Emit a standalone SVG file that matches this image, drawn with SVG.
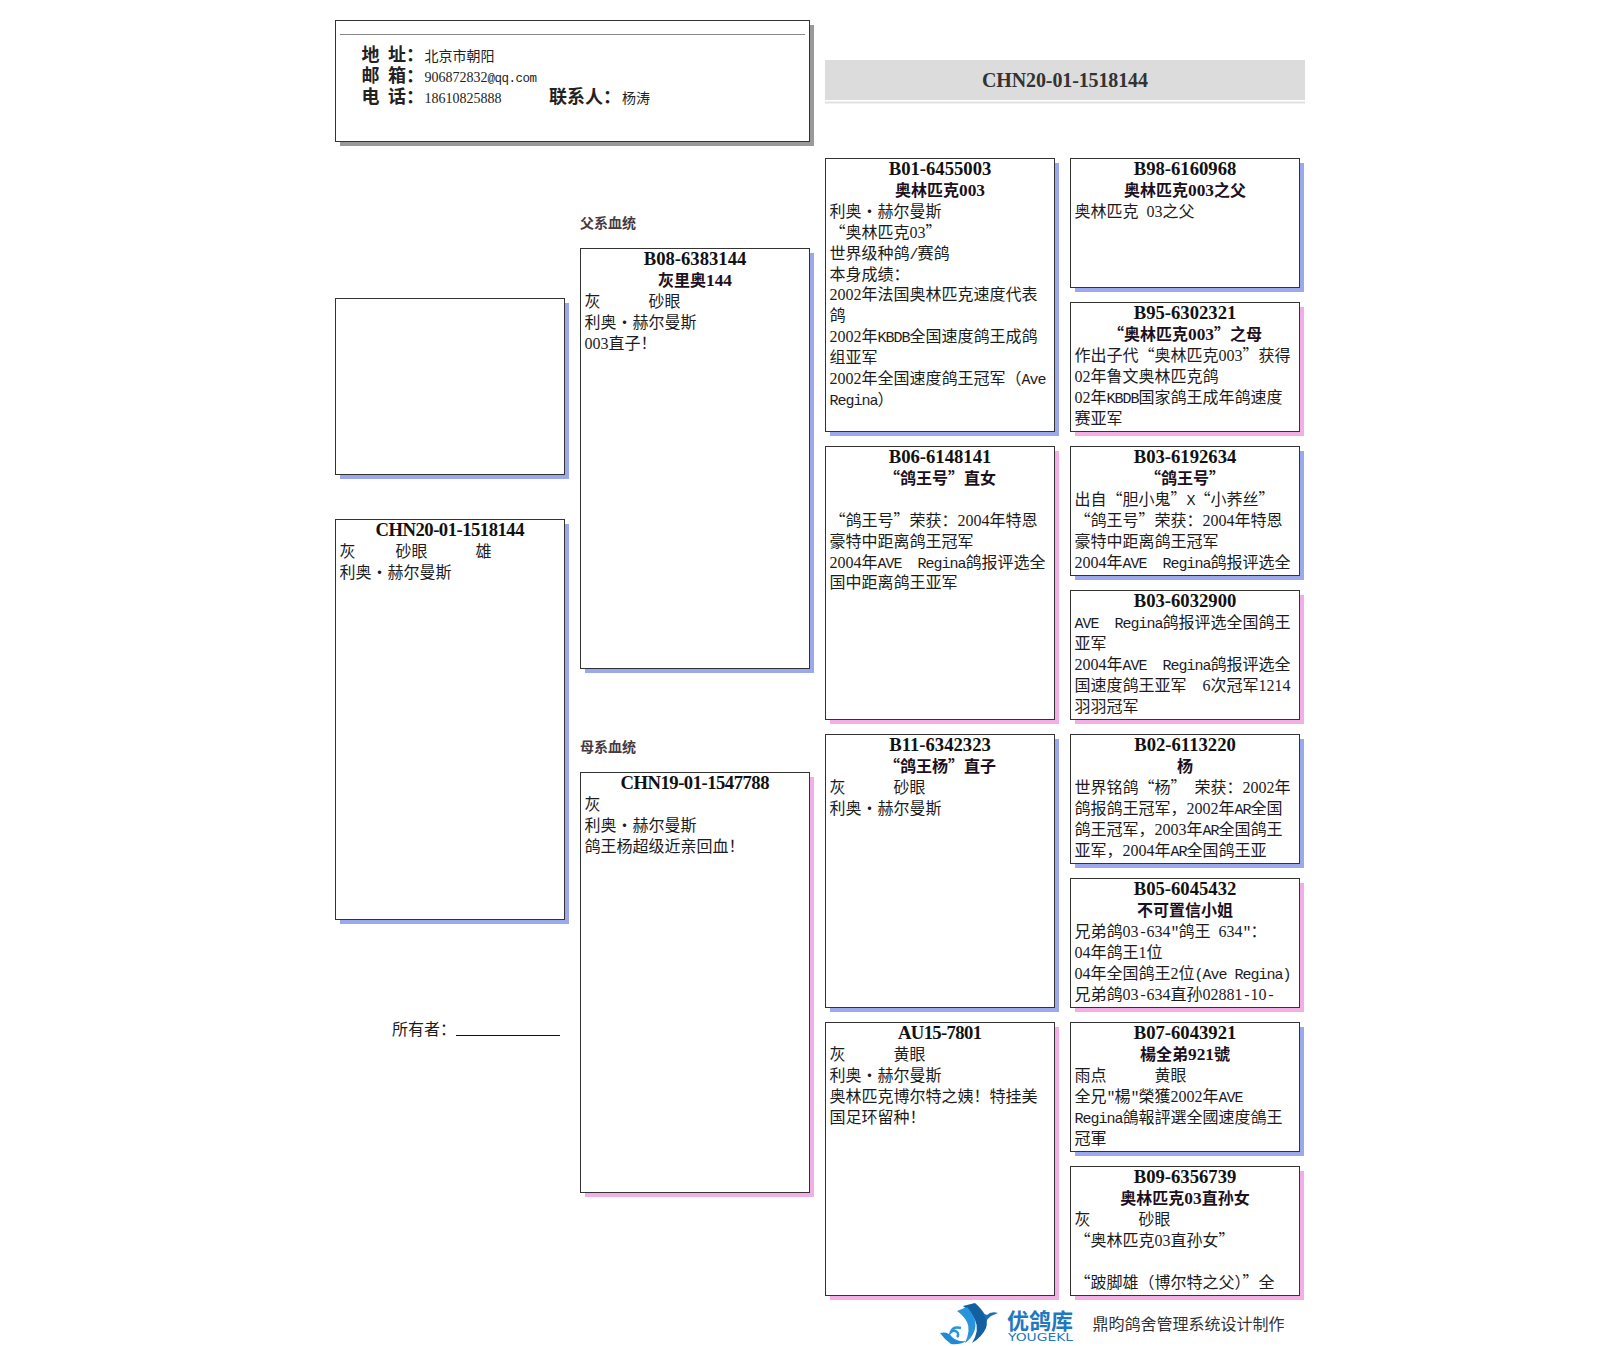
<svg xmlns="http://www.w3.org/2000/svg" width="1622" height="1346" viewBox="0 0 1622 1346">
<style>
text{font-family:"Noto Sans CJK SC",sans-serif;font-size:16px;fill:#1c1c1c;white-space:pre}
.l{font-family:"Liberation Mono",monospace;font-size:15px;letter-spacing:-1px}
.d{font-family:"Liberation Serif",serif;font-size:16px}
.h{font-family:"Liberation Serif",serif;font-size:18.67px;font-weight:bold;text-anchor:middle;fill:#111}
.n{font-weight:bold;text-anchor:middle;fill:#1c1020}
.nl{font-family:"Liberation Serif",serif;font-size:17.33px;font-weight:bold}
.b{fill:#fff;stroke:#333;stroke-width:1}
.sb{fill:#9ba9ec}
.sp{fill:#f4aee6}
.sg{fill:#999}
.lab{font-weight:bold;font-size:18px;fill:#222}
.v{font-size:14px;fill:#222}
.vd{font-family:"Liberation Serif",serif;font-size:14px;fill:#222}
.vl{font-family:"Liberation Mono",monospace;font-size:12.500px;letter-spacing:-.5px;fill:#222}
.sec{font-weight:bold;font-size:14px;fill:#443a44}
.logo{fill:#1f78c0}
</style>
<rect width="1622" height="1346" fill="#fff"/>

<g id="header">
<rect class="sg" x="340" y="25" width="474" height="121"/>
<rect class="b" x="335.500" y="20.500" width="474" height="121"/>
<line x1="340" y1="34.500" x2="805" y2="34.500" stroke="#888"/>
<text class="lab" x="361.500" y="61">地</text><text class="lab" x="388" y="61">址：</text><text class="v" x="424.500" y="61">北京市朝阳</text>
<text class="lab" x="361.500" y="82">邮</text><text class="lab" x="388" y="82">箱：</text><text class="vd" x="424.500" y="82">906872832<tspan class="vl">@qq.com</tspan></text>
<text class="lab" x="361.500" y="103">电</text><text class="lab" x="388" y="103">话：</text><text class="vd" x="424.500" y="103">18610825888</text>
<text class="lab" x="549" y="103">联系人：</text><text class="v" x="622" y="103">杨涛</text>
</g>

<g id="title-band">
<rect x="825" y="60" width="480" height="40" fill="#dcdcdc"/>
<rect x="825" y="101.500" width="480" height="2" fill="#e2e2e2"/>
<text x="1065" y="86.500" text-anchor="middle" textLength="166" style="font-family:'Liberation Serif',serif;font-size:20px;font-weight:bold;fill:#333">CHN20-01-1518144</text>
</g>

<g id="photo-box">
<rect class="sb" x="340" y="303" width="229" height="176"/>
<rect class="b" x="335.500" y="298.500" width="229" height="176"/>
</g>

<g id="bird">
<rect class="sb" x="340" y="524" width="229" height="400"/>
<rect class="b" x="335.500" y="519.500" width="229" height="400"/>
<text class="h" x="450" y="536" textLength="149">CHN20-01-1518144</text>
<text x="339.500" y="556.900">灰</text><text x="395.500" y="556.900">砂眼</text><text x="475.500" y="556.900">雄</text>
<text x="339.500" y="577.800">利奥·赫尔曼斯</text>
</g>

<g id="owner">
<text x="392" y="1035">所有者：</text>
<line x1="456" y1="1035.500" x2="560" y2="1035.500" stroke="#111"/>
</g>

<text class="sec" x="580" y="228">父系血统</text>
<text class="sec" x="580" y="752">母系血统</text>

<g id="sire">
<rect class="sb" x="585" y="253" width="229" height="420"/>
<rect class="b" x="580.500" y="248.500" width="229" height="420"/>
<text class="h" x="695" y="265">B08-6383144</text>
<text class="n" x="695" y="285.900">灰里奥<tspan class="nl">144</tspan></text>
<text x="584.500" y="306.800">灰</text><text x="648.500" y="306.800">砂眼</text>
<text x="584.500" y="327.700">利奥·赫尔曼斯</text>
<text x="584.500" y="348.600"><tspan class="d">003</tspan>直子！</text>
</g>

<g id="dam">
<rect class="sp" x="585" y="777" width="229" height="420"/>
<rect class="b" x="580.500" y="772.500" width="229" height="420"/>
<text class="h" x="695" y="789" textLength="149">CHN19-01-1547788</text>
<text x="584.500" y="809.900">灰</text>
<text x="584.500" y="830.800">利奥·赫尔曼斯</text>
<text x="584.500" y="851.700">鸽王杨超级近亲回血！</text>
</g>

<g id="b01">
<rect class="sb" x="830" y="163" width="229" height="273"/>
<rect class="b" x="825.500" y="158.500" width="229" height="273"/>
<text class="h" x="940" y="175">B01-6455003</text>
<text class="n" x="940" y="195.900">奥林匹克<tspan class="nl">003</tspan></text>
<text x="829.500" y="216.800">利奥·赫尔曼斯</text>
<text x="829.500" y="237.700">“奥林匹克<tspan class="d">03</tspan>”</text>
<text x="829.500" y="258.600">世界级种鸽<tspan class="l">/</tspan>赛鸽</text>
<text x="829.500" y="279.500">本身成绩：</text>
<text x="829.500" y="300.400"><tspan class="d">2002</tspan>年法国奥林匹克速度代表</text>
<text x="829.500" y="321.300">鸽</text>
<text x="829.500" y="342.200"><tspan class="d">2002</tspan>年<tspan class="l">KBDB</tspan>全国速度鸽王成鸽</text>
<text x="829.500" y="363.100">组亚军</text>
<text x="829.500" y="384"><tspan class="d">2002</tspan>年全国速度鸽王冠军（<tspan class="l">Ave</tspan></text>
<text x="829.500" y="404.900"><tspan class="l">Regina</tspan>）</text>
</g>

<g id="b06">
<rect class="sp" x="830" y="451" width="229" height="273"/>
<rect class="b" x="825.500" y="446.500" width="229" height="273"/>
<text class="h" x="940" y="463">B06-6148141</text>
<text class="n" x="940" y="483.900">“鸽王号”直女</text>
<text x="829.500" y="525.700">“鸽王号”荣获：<tspan class="d">2004</tspan>年特恩</text>
<text x="829.500" y="546.600">豪特中距离鸽王冠军</text>
<text x="829.500" y="567.500"><tspan class="d">2004</tspan>年<tspan class="l">AVE  Regina</tspan>鸽报评选全</text>
<text x="829.500" y="588.400">国中距离鸽王亚军</text>
</g>

<g id="b11">
<rect class="sb" x="830" y="739" width="229" height="273"/>
<rect class="b" x="825.500" y="734.500" width="229" height="273"/>
<text class="h" x="940" y="751">B11-6342323</text>
<text class="n" x="940" y="771.900">“鸽王杨”直子</text>
<text x="829.500" y="792.800">灰</text><text x="893.500" y="792.800">砂眼</text>
<text x="829.500" y="813.700">利奥·赫尔曼斯</text>
</g>

<g id="au15">
<rect class="sp" x="830" y="1027" width="229" height="273"/>
<rect class="b" x="825.500" y="1022.500" width="229" height="273"/>
<text class="h" x="940" y="1039" textLength="84">AU15-7801</text>
<text x="829.500" y="1059.900">灰</text><text x="893.500" y="1059.900">黄眼</text>
<text x="829.500" y="1080.800">利奥·赫尔曼斯</text>
<text x="829.500" y="1101.700">奥林匹克博尔特之姨！特挂美</text>
<text x="829.500" y="1122.600">国足环留种！</text>
</g>

<g id="b98">
<rect class="sb" x="1075" y="163" width="229" height="129"/>
<rect class="b" x="1070.500" y="158.500" width="229" height="129"/>
<text class="h" x="1185" y="175">B98-6160968</text>
<text class="n" x="1185" y="195.900">奥林匹克<tspan class="nl">003</tspan>之父</text>
<text x="1074.500" y="216.800">奥林匹克<tspan class="l"> </tspan><tspan class="d">03</tspan>之父</text>
</g>

<g id="b95">
<rect class="sp" x="1075" y="307" width="229" height="129"/>
<rect class="b" x="1070.500" y="302.500" width="229" height="129"/>
<text class="h" x="1185" y="319">B95-6302321</text>
<text class="n" x="1185" y="339.900">“奥林匹克<tspan class="nl">003</tspan>”之母</text>
<text x="1074.500" y="360.800">作出子代“奥林匹克<tspan class="d">003</tspan>”获得</text>
<text x="1074.500" y="381.700"><tspan class="d">02</tspan>年鲁文奥林匹克鸽</text>
<text x="1074.500" y="402.600"><tspan class="d">02</tspan>年<tspan class="l">KBDB</tspan>国家鸽王成年鸽速度</text>
<text x="1074.500" y="423.500">赛亚军</text>
</g>

<g id="b03a">
<rect class="sb" x="1075" y="451" width="229" height="129"/>
<rect class="b" x="1070.500" y="446.500" width="229" height="129"/>
<text class="h" x="1185" y="463">B03-6192634</text>
<text class="n" x="1185" y="483.900">“鸽王号”</text>
<text x="1074.500" y="504.800">出自“胆小鬼”<tspan class="l">X</tspan>“小荞丝”</text>
<text x="1074.500" y="525.700">“鸽王号”荣获：<tspan class="d">2004</tspan>年特恩</text>
<text x="1074.500" y="546.600">豪特中距离鸽王冠军</text>
<text x="1074.500" y="567.500"><tspan class="d">2004</tspan>年<tspan class="l">AVE  Regina</tspan>鸽报评选全</text>
</g>

<g id="b03b">
<rect class="sp" x="1075" y="595" width="229" height="129"/>
<rect class="b" x="1070.500" y="590.500" width="229" height="129"/>
<text class="h" x="1185" y="607">B03-6032900</text>
<text x="1074.500" y="627.900"><tspan class="l">AVE  Regina</tspan>鸽报评选全国鸽王</text>
<text x="1074.500" y="648.800">亚军</text>
<text x="1074.500" y="669.700"><tspan class="d">2004</tspan>年<tspan class="l">AVE  Regina</tspan>鸽报评选全</text>
<text x="1074.500" y="690.600">国速度鸽王亚军<tspan class="l">  </tspan><tspan class="d">6</tspan>次冠军<tspan class="d">1214</tspan></text>
<text x="1074.500" y="711.500">羽羽冠军</text>
</g>

<g id="b02">
<rect class="sb" x="1075" y="739" width="229" height="129"/>
<rect class="b" x="1070.500" y="734.500" width="229" height="129"/>
<text class="h" x="1185" y="751">B02-6113220</text>
<text class="n" x="1185" y="771.900">杨</text>
<text x="1074.500" y="792.800">世界铭鸽“杨”<tspan class="l"> </tspan>荣获：<tspan class="d">2002</tspan>年</text>
<text x="1074.500" y="813.700">鸽报鸽王冠军，<tspan class="d">2002</tspan>年<tspan class="l">AR</tspan>全国</text>
<text x="1074.500" y="834.600">鸽王冠军，<tspan class="d">2003</tspan>年<tspan class="l">AR</tspan>全国鸽王</text>
<text x="1074.500" y="855.500">亚军，<tspan class="d">2004</tspan>年<tspan class="l">AR</tspan>全国鸽王亚</text>
</g>

<g id="b05">
<rect class="sp" x="1075" y="883" width="229" height="129"/>
<rect class="b" x="1070.500" y="878.500" width="229" height="129"/>
<text class="h" x="1185" y="895">B05-6045432</text>
<text class="n" x="1185" y="915.900">不可置信小姐</text>
<text x="1074.500" y="936.800">兄弟鸽<tspan class="d">03</tspan><tspan class="l">-</tspan><tspan class="d">634</tspan><tspan class="l">"</tspan>鸽王<tspan class="l"> </tspan><tspan class="d">634</tspan><tspan class="l">"</tspan>：</text>
<text x="1074.500" y="957.700"><tspan class="d">04</tspan>年鸽王<tspan class="d">1</tspan>位</text>
<text x="1074.500" y="978.600"><tspan class="d">04</tspan>年全国鸽王<tspan class="d">2</tspan>位<tspan class="l">(Ave Regina)</tspan></text>
<text x="1074.500" y="999.500">兄弟鸽<tspan class="d">03</tspan><tspan class="l">-</tspan><tspan class="d">634</tspan>直孙<tspan class="d">02881</tspan><tspan class="l">-</tspan><tspan class="d">10</tspan><tspan class="l">-</tspan></text>
</g>

<g id="b07">
<rect class="sb" x="1075" y="1027" width="229" height="129"/>
<rect class="b" x="1070.500" y="1022.500" width="229" height="129"/>
<text class="h" x="1185" y="1039">B07-6043921</text>
<text class="n" x="1185" y="1059.900">楊全弟<tspan class="nl">921</tspan>號</text>
<text x="1074.500" y="1080.800">雨点</text><text x="1154.500" y="1080.800">黄眼</text>
<text x="1074.500" y="1101.700">全兄<tspan class="l">"</tspan>楊<tspan class="l">"</tspan>榮獲<tspan class="d">2002</tspan>年<tspan class="l">AVE</tspan></text>
<text x="1074.500" y="1122.600"><tspan class="l">Regina</tspan>鴿報評選全國速度鴿王</text>
<text x="1074.500" y="1143.500">冠軍</text>
</g>

<g id="b09">
<rect class="sp" x="1075" y="1171" width="229" height="129"/>
<rect class="b" x="1070.500" y="1166.500" width="229" height="129"/>
<text class="h" x="1185" y="1183">B09-6356739</text>
<text class="n" x="1185" y="1203.900">奥林匹克<tspan class="nl">03</tspan>直孙女</text>
<text x="1074.500" y="1224.800">灰</text><text x="1138.500" y="1224.800">砂眼</text>
<text x="1074.500" y="1245.700">“奥林匹克<tspan class="d">03</tspan>直孙女”</text>
<text x="1074.500" y="1287.500">“跛脚雄（博尔特之父）”全</text>
</g>

<g id="logo">
<path d="M963 1306L975 1303Q990 1316 986 1328Q982 1337 972 1343Q980 1330 975 1320Q971 1312 963 1306Z" fill="#12609f"/>
<path d="M957 1311L967 1307Q979 1320 974 1332Q971 1339 965 1343Q971 1330 967 1322Q963 1315 957 1311Z" fill="#2a93dd"/>
<path d="M986 1322Q985 1316 982 1313L987 1315Q991 1311 998 1313L991 1316Q988 1318 986 1322Z" fill="#1a6fb5"/>
<path d="M940 1333Q948 1331 952 1337Q957 1342 966 1341Q960 1345 951 1344Q945 1340 940 1333Z" fill="#1f8ad6"/>
<path d="M957 1337A4 3.500 0 1 0 951 1332Q953 1326 961 1328" fill="none" stroke="#2a93dd" stroke-width="2.500"/>
<text class="logo" x="1007" y="1329" style="font-size:22px;font-weight:bold">优鸽库</text>
<text class="logo" x="1008" y="1341" textLength="65" lengthAdjust="spacingAndGlyphs" style="font-family:'DejaVu Sans',sans-serif;font-size:10px">YOUGEKL</text>
</g>

<text x="1092.500" y="1329.500" style="fill:#333">鼎昀鸽舍管理系统设计制作</text>
</svg>
